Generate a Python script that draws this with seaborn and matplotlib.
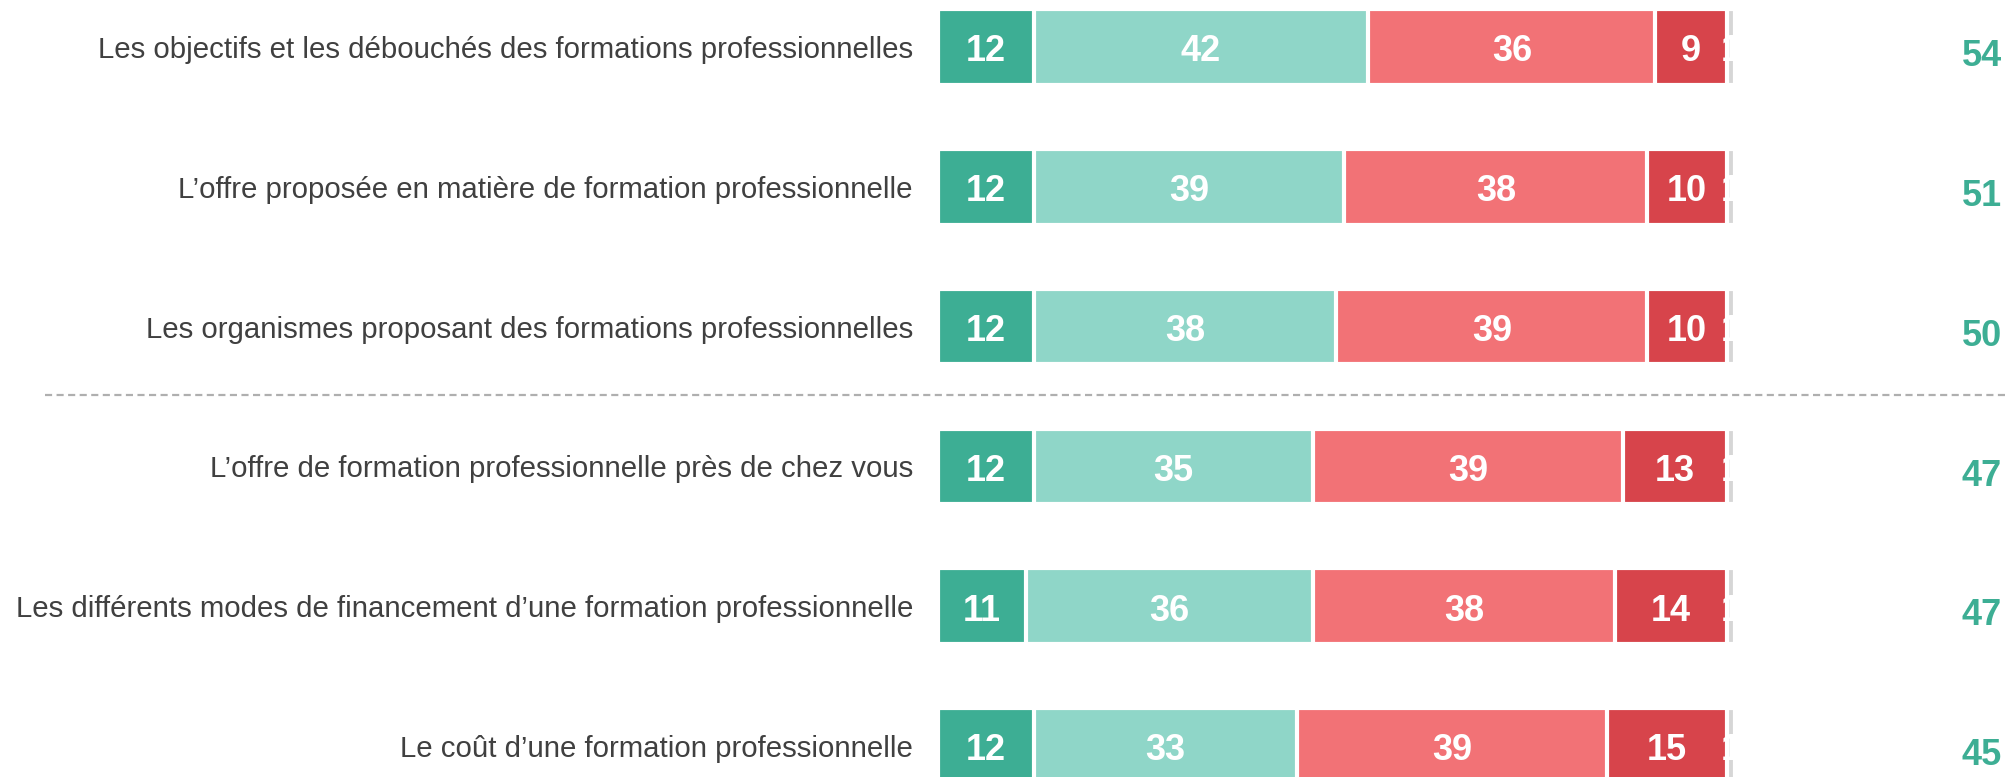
import seaborn as sns
import matplotlib.pyplot as plt
import pandas as pd

sns.set_style("white")
plt.rcParams['font.family'] = ['Liberation Sans', 'DejaVu Sans']

# ----------- Data -----------
items = [
    "Les objectifs et les débouchés des formations professionnelles",
    "L’offre proposée en matière de formation professionnelle",
    "Les organismes proposant des formations professionnelles",
    "L’offre de formation professionnelle près de chez vous",
    "Les différents modes de financement d’une formation professionnelle",
    "Le coût d’une formation professionnelle",
]
tres_bien = [12, 12, 12, 12, 11, 12]
assez_bien = [42, 39, 38, 35, 36, 33]
assez_mal = [36, 38, 39, 39, 38, 39]
tres_mal = [9, 10, 10, 13, 14, 15]
nsp = [1, 1, 1, 1, 1, 1]
total_bien = [54, 51, 50, 47, 47, 45]

series = [tres_bien, assez_bien, assez_mal, tres_mal, nsp]
colors = ["#3DAE94", "#8FD6C8", "#F27276", "#D7444B", "#D6D6D6"]

df = pd.DataFrame({"item": items})
cum = []
running = [0] * len(items)
for s in series:
    running = [r + v for r, v in zip(running, s)]
    cum.append(list(running))

# ----------- Figure -----------
fig = plt.figure(figsize=(20.06, 7.77), dpi=100)
ax = fig.add_axes([938 / 2006, 0, 797 / 2006, 1])

# stacked bars: draw cumulative totals from the longest down
for k in range(len(series) - 1, -1, -1):
    df["cum"] = cum[k]
    sns.barplot(data=df, x="cum", y="item", orient="h", color=colors[k],
                width=0.54, edgecolor="white", linewidth=3, saturation=1, ax=ax)

# values inside segments
for i in range(len(items)):
    left = 0
    for k, s in enumerate(series):
        v = s[i]
        ax.text(left + v / 2, i + 0.035, str(v), ha="center", va="center", color="white",
                fontsize=26, fontweight="bold")
        left += v
    ax.text(1.0 + 247 / 797, i + 0.07, str(total_bien[i]), transform=ax.get_yaxis_transform(),
            ha="center", va="center", color="#3DAE94", fontsize=26, fontweight="bold",
            clip_on=False)

ax.set_xlim(0, 100)
ax.set_ylim(5.222, -0.336)
ax.set_xlabel("")
ax.set_ylabel("")
ax.set_xticks([])
ax.tick_params(axis="y", length=0, pad=18, labelsize=21.2, labelcolor="#404040")
sns.despine(ax=ax, left=True, bottom=True)

# separator between the two groups
fig.add_artist(plt.Line2D([45 / 2006, 1], [1 - 395 / 777] * 2, color="#AFAFAF",
                          linestyle=(0, (3.2, 2)), linewidth=1.6))

fig.savefig("out.png", dpi=100)
